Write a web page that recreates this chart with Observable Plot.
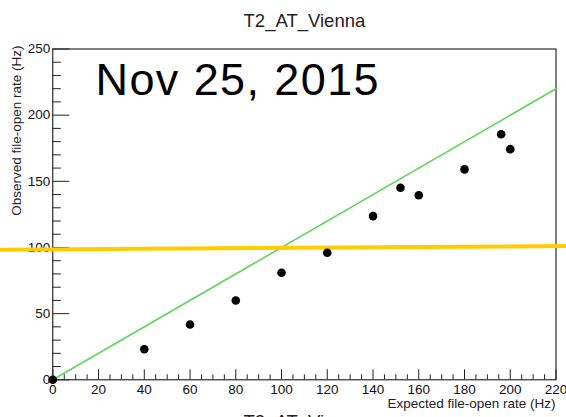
<!DOCTYPE html>
<html>
<head>
<meta charset="utf-8">
<script src="https://cdn.jsdelivr.net/npm/d3@7"></script>
<script src="https://cdn.jsdelivr.net/npm/@observablehq/plot@0.6"></script>
<style>
  html, body { margin: 0; padding: 0; background: white; overflow: hidden; }
  #chart svg { display: block; overflow: hidden; }
  #chart text.date-label { letter-spacing: 1.4px; }
</style>
</head>
<body>
<div id="chart"></div>
<script>
// Expected vs observed file-open rate for one site
const siteName = "T2_AT_Vienna";
const dateLabel = "Nov 25, 2015";
const xLabel = "Expected file-open rate (Hz)";
const yLabel = "Observed file-open rate (Hz)";

const expectedRate = [0, 40, 60, 80, 100, 120, 140, 152, 160, 180, 196, 200];
const observedRate = [0, 23.1, 41.8, 59.9, 80.9, 96.0, 123.7, 145.1, 139.5, 159.0, 185.6, 174.3];

// reference diagonal (observed = expected)
const diagX = [0, 220];
const diagY = [0, 220];

// threshold line, drawn across the whole canvas
const threshX = [-23, 225];
const threshY = [98.3, 101.1];

const xMajor = d3.range(0, 221, 20);
const xMinor = d3.range(0, 221, 5).filter(v => v % 20 !== 0);
const yMajor = d3.range(0, 251, 50);
const yMinor = d3.range(0, 251, 10).filter(v => v % 50 !== 0);

const points = expectedRate.map((x, i) => ({x, y: observedRate[i]}));
const diag = diagX.map((x, i) => ({x, y: diagY[i]}));
const thresh = threshX.map((x, i) => ({x, y: threshY[i]}));

const font = "'Liberation Sans', Arial, Helvetica, sans-serif";

const chart = Plot.plot({
  width: 566,
  height: 417,
  marginLeft: 52.3,
  marginRight: 10.5,
  marginTop: 48.5,
  marginBottom: 37.7,
  style: {fontFamily: font, background: "white", color: "black"},
  x: {domain: [0, 220], label: null},
  y: {domain: [0, 250], label: null},
  marks: [
    Plot.frame({stroke: "black", strokeWidth: 1}),
    // x axis: inward ticks, labels underneath
    Plot.axisX(xMinor, {anchor: "bottom", tickSize: -5, tickFormat: () => "", stroke: "#222"}),
    Plot.axisX(xMajor, {anchor: "bottom", tickSize: -10, tickPadding: 15, fontSize: 13.5, fill: "#111", stroke: "#222"}),
    // y axis
    Plot.axisY(yMinor, {anchor: "left", tickSize: -8.5, tickFormat: () => "", stroke: "#222"}),
    Plot.axisY(yMajor, {anchor: "left", tickSize: -17, tickPadding: 19.5, fontSize: 13.5, fill: "#111", stroke: "#222"}),
    Plot.line(diag, {x: "x", y: "y", stroke: "#5fd65a", strokeWidth: 1.6}),
    Plot.line(thresh, {x: "x", y: "y", stroke: "#ffcc00", strokeWidth: 4}),
    Plot.dot(points, {x: "x", y: "y", r: 4.3, fill: "black", stroke: "none"}),
    // titles and annotations
    Plot.text([siteName], {frameAnchor: "top", dx: 0, dy: -35, lineAnchor: "top", fontSize: 18.5, fill: "#222", text: d => d}),
    Plot.text([dateLabel], {frameAnchor: "top-left", dx: 42.7, dy: 14.5, lineAnchor: "top", textAnchor: "start", fontSize: 45, fill: "black", text: d => d, className: "date-label"}),
    Plot.text([xLabel], {frameAnchor: "bottom-right", dx: -0.5, dy: 18.5, lineAnchor: "top", textAnchor: "end", fontSize: 13.5, fill: "#222", text: d => d}),
    Plot.text([yLabel], {frameAnchor: "top-left", dx: -35.8, dy: -3.5, rotate: -90, lineAnchor: "middle", textAnchor: "end", fontSize: 13.5, fill: "#222", text: d => d}),
    Plot.text([siteName], {frameAnchor: "bottom", dy: 35.5, lineAnchor: "top", fontSize: 18.5, fill: "#222", text: d => d})
  ]
});

// widen the date annotation slightly
d3.select(chart).selectAll("text")
  .filter(function() { return this.textContent === dateLabel; })
  .attr("letter-spacing", "1.4px");

document.getElementById("chart").appendChild(chart);
</script>
</body>
</html>
